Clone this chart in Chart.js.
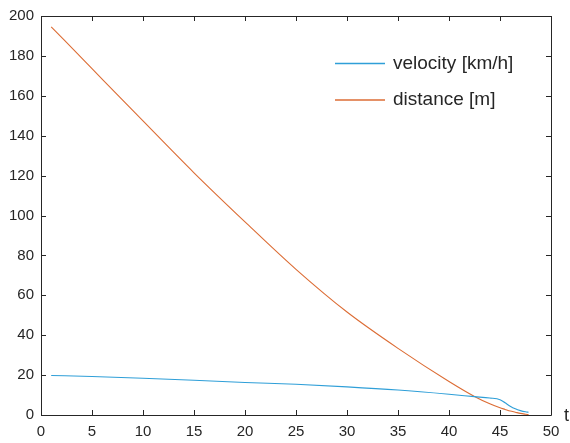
<!DOCTYPE html>
<html>
<head>
<meta charset="utf-8">
<script src="https://cdn.jsdelivr.net/npm/chart.js@4/dist/chart.umd.min.js"></script>
<style>
  html, body { margin: 0; padding: 0; background: #ffffff; }
  #wrap { width: 570px; height: 443px; }
</style>
</head>
<body>
<div id="wrap"><canvas id="c" width="570" height="443"></canvas></div>
<script>
// Time samples [s]
const timeS = [1, 5, 10, 15, 20, 25, 30, 35, 40, 42.5, 44, 45, 45.5, 46, 46.5, 47, 47.5, 47.8];
// Vehicle speed [km/h]
const velocityKmh = [19.8, 19.3, 18.4, 17.4, 16.3, 15.4, 14.1, 12.5, 10.4, 9.2, 8.5, 7.7, 6.1, 4.4, 3.1, 2.2, 1.6, 1.4];
// Remaining distance [m]
const distanceM = [194.6, 173.6, 147.4, 121.4, 96.8, 73.0, 51.6, 33.4, 16.8, 9.3, 5.6, 3.6, 2.8, 2.0, 1.4, 0.8, 0.4, 0.2];

const seriesLabels = ['velocity [km/h]', 'distance [m]'];
const seriesColors = ['#2f9fd8', '#dc6c34'];
const xTicks = { min: 0, max: 50, step: 5 };
const yTicks = { min: 0, max: 200, step: 20 };
const xAxisLabel = 't';

const AXIS_COLOR = '#262626';
const FONT = '"Liberation Sans", Arial, Helvetica, sans-serif';

const toPoints = (xs, ys) => xs.map((x, i) => ({ x: x, y: ys[i] }));

// Closed box around the plot area with inward tick marks on all four sides
const boxPlugin = {
  id: 'box',
  afterDatasetsDraw(chart) {
    const { ctx, chartArea: a, scales } = chart;
    const len = 5;
    ctx.save();
    ctx.strokeStyle = AXIS_COLOR;
    ctx.lineWidth = 1;
    ctx.beginPath();
    ctx.rect(Math.round(a.left) + 0.5, Math.round(a.top) + 0.5,
             Math.round(a.right - a.left), Math.round(a.bottom - a.top));
    scales.x.ticks.forEach(t => {
      const px = Math.round(scales.x.getPixelForValue(t.value)) + 0.5;
      ctx.moveTo(px, a.bottom); ctx.lineTo(px, a.bottom - len);
      ctx.moveTo(px, a.top); ctx.lineTo(px, a.top + len);
    });
    scales.y.ticks.forEach(t => {
      const py = Math.round(scales.y.getPixelForValue(t.value)) + 0.5;
      ctx.moveTo(a.left, py); ctx.lineTo(a.left + len, py);
      ctx.moveTo(a.right, py); ctx.lineTo(a.right - len, py);
    });
    ctx.stroke();
    ctx.restore();
  }
};

// Legend inside the axes, top right, no frame
const innerLegend = {
  id: 'innerLegend',
  afterDraw(chart) {
    const { ctx } = chart;
    const x0 = 335, lineW = 50, gap = 8, rows = [63.5, 100];
    ctx.save();
    ctx.font = '19px ' + FONT;
    ctx.textBaseline = 'middle';
    ctx.textAlign = 'left';
    chart.data.datasets.forEach((ds, i) => {
      const y = rows[i];
      ctx.strokeStyle = ds.borderColor;
      ctx.lineWidth = 1.5;
      ctx.beginPath();
      ctx.moveTo(x0, y); ctx.lineTo(x0 + lineW, y);
      ctx.stroke();
      ctx.fillStyle = AXIS_COLOR;
      ctx.fillText(ds.label, x0 + lineW + gap, y);
    });
    // axis name placed past the right end of the x axis
    ctx.font = '18px ' + FONT;
    ctx.fillText(xAxisLabel, 564, 416);
    ctx.restore();
  }
};

new Chart(document.getElementById('c'), {
  type: 'line',
  data: {
    datasets: [
      {
        label: seriesLabels[0],
        data: toPoints(timeS, velocityKmh),
        borderColor: seriesColors[0],
        borderWidth: 1.1,
        pointRadius: 0,
        cubicInterpolationMode: 'monotone',
        fill: false
      },
      {
        label: seriesLabels[1],
        data: toPoints(timeS, distanceM),
        borderColor: seriesColors[1],
        borderWidth: 1.1,
        pointRadius: 0,
        cubicInterpolationMode: 'monotone',
        fill: false
      }
    ]
  },
  options: {
    responsive: false,
    animation: false,
    layout: { padding: { top: 13, right: 19, left: 0, bottom: 0 } },
    plugins: { legend: { display: false }, tooltip: { enabled: false } },
    scales: {
      x: {
        type: 'linear',
        min: xTicks.min, max: xTicks.max,
        ticks: { stepSize: xTicks.step, color: AXIS_COLOR, font: { family: FONT, size: 15 }, padding: 8, maxRotation: 0 },
        grid: { display: false, drawTicks: false },
        border: { display: false },
        afterFit(s) { s.height = 28; }
      },
      y: {
        type: 'linear',
        min: yTicks.min, max: yTicks.max,
        ticks: { stepSize: yTicks.step, color: AXIS_COLOR, font: { family: FONT, size: 15 }, padding: 7 },
        grid: { display: false, drawTicks: false },
        border: { display: false },
        afterFit(s) { s.width = 41; }
      }
    }
  },
  plugins: [boxPlugin, innerLegend]
});
</script>
</body>
</html>
